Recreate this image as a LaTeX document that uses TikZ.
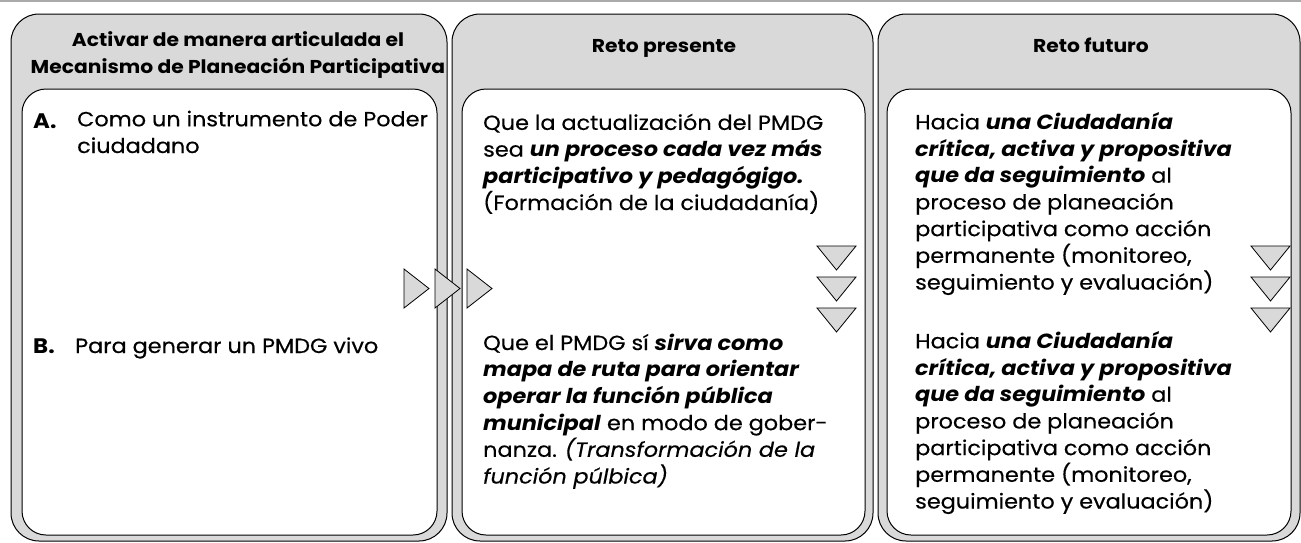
\documentclass[tikz,border=0pt]{standalone}
\usepackage{fontspec}
\setmainfont{Poppins}[FakeStretch=1.09, UprightFeatures={FakeBold=0.4}, ItalicFeatures={FakeBold=0.4}]
\usepackage{tikz}
\usetikzlibrary{positioning}

\definecolor{panelgray}{RGB}{217,217,217}
\definecolor{rulegray}{RGB}{170,170,170}
\newcommand{\boldit}[1]{\textbf{\textit{#1}}}

\tikzset{
  panel/.style={draw, fill=panelgray, rounded corners=28pt, line width=1pt, inner sep=0},
  card/.style={draw, fill=white, rounded corners=24pt, line width=1pt, inner sep=0},
  head/.style={font=\bfseries\fontsize{18.6}{27}\selectfont, align=center, inner sep=0},
  body/.style={font=\fontsize{20.5}{26.7}\selectfont, align=left, anchor=base west, inner sep=0},
  letter/.style={font=\bfseries\fontsize{21}{24}\selectfont, anchor=base west, inner sep=0},
  tri/.style={draw, fill=panelgray, line width=0.8pt, line join=miter},
}

\begin{document}
\begin{tikzpicture}[x=1pt, y=-1pt]
    \useasboundingbox (0,0) rectangle (1301,542);
    \draw[rulegray, line width=2pt] (0,1) -- (1301,1);

    \node [panel, minimum width=436pt, minimum height=527pt] (left_panel) at (229,277.5) {};
    \node [panel, minimum width=421pt, minimum height=527pt] (mid_panel) at (662.5,277.5) {};
    \node [panel, minimum width=422pt, minimum height=527pt] (right_panel) at (1089,277.5) {};

    \node [card, minimum width=415pt, minimum height=446pt] (left_card) at (229.5,312) {};
    \node [card, minimum width=403pt, minimum height=446pt] (mid_card) at (663.5,312) {};
    \node [card, minimum width=404pt, minimum height=446pt] (right_card) at (1089,312) {};

    \node [head, anchor=base] (left_head) at (238,73.5) {Activar de manera articulada el\\Mecanismo de Planeación Participativa};
    \node [head, anchor=base] (mid_head) at (664,52) {Reto presente};
    \node [head, anchor=base] (right_head) at (1091,52) {Reto futuro};

    \node [letter] (label_a) at (33,128) {A.};
    \node [body] (text_a) at (77,153) {Como un instrumento de Poder\\ciudadano};
    \node [letter] (label_b) at (33,353) {B.};
    \node [body] (text_b) at (75,353) {Para generar un PMDG vivo};

    \node [body] (present_one) at (483,210) {Que la actualización del PMDG\\
        sea \boldit{un proceso cada vez más}\\
        \boldit{participativo y pedagógigo.}\\
        (Formación de la ciudadanía)};
    \node [body] (present_two) at (483,483.5) {Que el PMDG sí \boldit{sirva como}\\
        \boldit{mapa de ruta para orientar}\\
        \boldit{operar la función pública}\\
        \boldit{municipal} en modo de gober-\\
        nanza. \textit{(Transformación de la}\\
        \textit{función púlbica)}};

    \node [body] (future_one) at (915,289.5) {Hacia \boldit{una Ciudadanía}\\
        \boldit{crítica, activa y propositiva}\\
        \boldit{que da seguimiento} al\\
        proceso de planeación\\
        participativa como acción\\
        permanente (monitoreo,\\
        seguimiento y evaluación)};
    \node [body] (future_two) at (915,508.5) {Hacia \boldit{una Ciudadanía}\\
        \boldit{crítica, activa y propositiva}\\
        \boldit{que da seguimiento} al\\
        proceso de planeación\\
        participativa como acción\\
        permanente (monitoreo,\\
        seguimiento y evaluación)};

    % arrows between the panels
    \foreach \x in {404,435,467}
        \draw[tri] (\x,269) -- (\x+25,288.5) -- (\x,308) -- cycle;
    \foreach \y in {246,277,308} {
        \draw[tri] (817,\y) -- (856,\y) -- (836.5,\y+24) -- cycle;
        \draw[tri] (1251,\y) -- (1290,\y) -- (1270.5,\y+24) -- cycle;
    }
\end{tikzpicture}
\end{document}
